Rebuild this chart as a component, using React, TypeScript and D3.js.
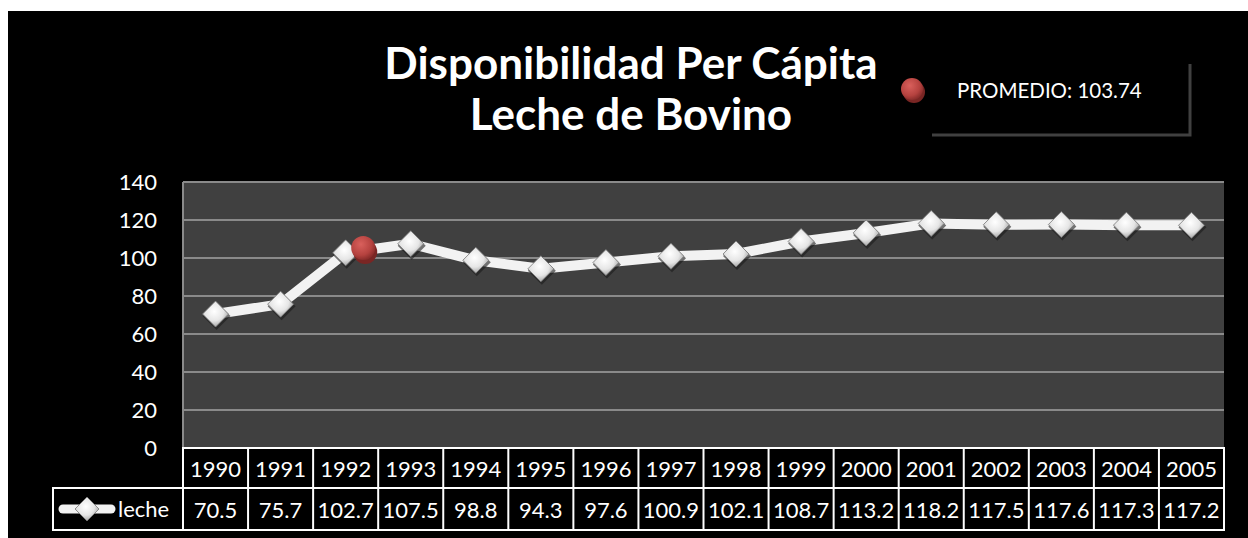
import React from "react";
import * as d3 from "d3";

const years = ["1990","1991","1992","1993","1994","1995","1996","1997","1998","1999","2000","2001","2002","2003","2004","2005"];
const leche = [70.5, 75.7, 102.7, 107.5, 98.8, 94.3, 97.6, 100.9, 102.1, 108.7, 113.2, 118.2, 117.5, 117.6, 117.3, 117.2];
const yTicks = [0, 20, 40, 60, 80, 100, 120, 140];
const promedio = 103.74;
const promedioPos = 2.77; // category position of the average marker
const seriesName = "leche";
const titleLines = ["Disponibilidad Per Cápita", "Leche de Bovino"];

const W = 1248, H = 538;
const FONT = "Lato, 'Open Sans', sans-serif";

export default function App() {
  const left = 183, right = 1224, top = 182, bottom = 448;
  const x = d3.scaleBand<string>().domain(years).range([left, right]).padding(0);
  const xc = (i: number) => left + (i + 0.5) * x.bandwidth();
  const y = d3.scaleLinear().domain([0, 140]).range([bottom, top]);
  const line = d3.line<number>().x((_, i) => xc(i)).y((d) => y(d));
  const row1Top = bottom, row1Bot = 488, row2Bot = 530, tableLeft = 53;
  const diamond = (cx: number, cy: number, r: number) =>
    `M${cx},${cy - r}L${cx + r},${cy}L${cx},${cy + r}L${cx - r},${cy}Z`;
  const avgX = left + promedioPos * x.bandwidth();

  return (
    <svg width={W} height={H} style={{ display: "block", position: "absolute", left: 0, top: 0 }}>
      <defs>
        <radialGradient id="dg" cx="45%" cy="40%" r="60%">
          <stop offset="0%" stopColor="#ffffff" />
          <stop offset="60%" stopColor="#e6e6e6" />
          <stop offset="100%" stopColor="#a6a6a6" />
        </radialGradient>
        <radialGradient id="rg" cx="40%" cy="35%" r="65%">
          <stop offset="0%" stopColor="#d9605c" />
          <stop offset="70%" stopColor="#b5423f" />
          <stop offset="100%" stopColor="#8c2e2c" />
        </radialGradient>
      </defs>
      <rect x={8} y={11} width={W - 8} height={H - 11} fill="#000" />
      {/* title */}
      {titleLines.map((t, i) => (
        <text key={i} x={631} y={79 + i * 51} textAnchor="middle" fill="#fff"
          fontFamily={FONT} fontWeight={700} fontSize={44}>{t}</text>
      ))}
      {/* legend box shadow */}
      <path d="M1190,64L1190,135L932,135" fill="none" stroke="#404040" strokeWidth={3} />
      <circle cx={914} cy={92} r={11} fill="#7a2624" />
      <circle cx={912} cy={89} r={11} fill="url(#rg)" />
      <text x={957} y={98} fill="#fff" fontFamily={FONT} fontSize={20.5}>PROMEDIO: {promedio}</text>
      {/* plot area */}
      <rect x={left} y={top} width={right - left} height={bottom - top} fill="#404040" />
      {yTicks.map((t) => (
        <g key={t}>
          {t > 0 && <line x1={left} x2={right} y1={y(t)} y2={y(t)} stroke="#8a8a8a" strokeWidth={2} />}
          <text x={157} y={y(t) + 8} textAnchor="end" fill="#fff" fontFamily={FONT} fontSize={22}>{t}</text>
        </g>
      ))}
      <line x1={left} x2={left} y1={top} y2={bottom} stroke="#8a8a8a" strokeWidth={2} />
      {/* series line */}
      <path d={line(leche) || ""} fill="none" stroke="#f2f2f2" strokeWidth={10} strokeLinejoin="round" />
      {leche.map((v, i) => (
        <g key={i}>
          <path d={diamond(xc(i) + 1, y(v) + 2, 14)} fill="#1a1a1a" opacity={0.6} />
          <path d={diamond(xc(i), y(v), 13)} fill="url(#dg)" stroke="#777" strokeWidth={0.8} />
        </g>
      ))}
      {/* average marker */}
      <circle cx={avgX + 2} cy={y(promedio) + 1} r={12} fill="#7a2624" />
      <circle cx={avgX} cy={y(promedio) - 3} r={12} fill="url(#rg)" />
      {/* data table */}
      <g stroke="#fff" strokeWidth={2} fill="none">
        <rect x={left} y={row1Top} width={right - left} height={row2Bot - row1Top} />
        <line x1={tableLeft} x2={right} y1={row1Bot} y2={row1Bot} />
        <rect x={tableLeft} y={row1Bot} width={left - tableLeft} height={row2Bot - row1Bot} />
        {years.map((yr, i) => i > 0 && (
          <line key={yr} x1={x(yr)!} x2={x(yr)!} y1={row1Top} y2={row2Bot} />
        ))}
      </g>
      {years.map((yr, i) => (
        <g key={yr}>
          <text x={xc(i)} y={row1Top + 29} textAnchor="middle" fill="#fff" fontFamily={FONT} fontSize={22}>{yr}</text>
          <text x={xc(i)} y={row1Bot + 30} textAnchor="middle" fill="#fff" fontFamily={FONT} fontSize={22}>{leche[i]}</text>
        </g>
      ))}
      <line x1={63} x2={111} y1={509} y2={509} stroke="#f2f2f2" strokeWidth={9} strokeLinecap="round" />
      <path d={diamond(87, 509, 12)} fill="url(#dg)" stroke="#777" strokeWidth={0.8} />
      <text x={118} y={517} fill="#fff" fontFamily={FONT} fontSize={22}>{seriesName}</text>
    </svg>
  );
}
